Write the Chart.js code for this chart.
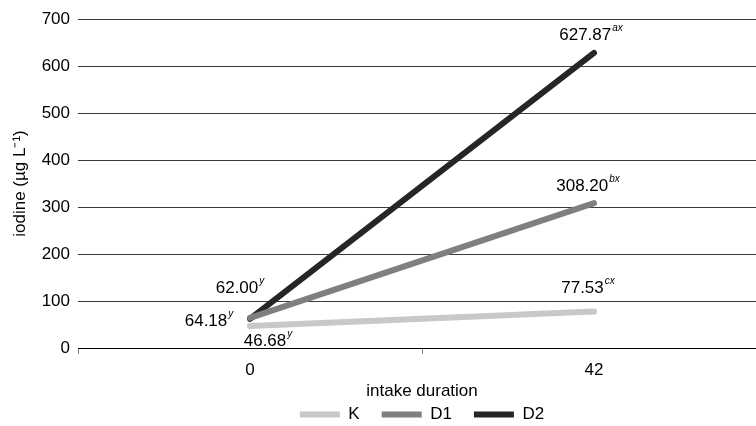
<!DOCTYPE html>
<html>
<head>
<meta charset="utf-8">
<script src="https://cdn.jsdelivr.net/npm/chart.js@4"></script>
<style>
  html, body { margin: 0; padding: 0; overflow: hidden; background: #fff; }
  #wrap { width: 768px; height: 433px; }
</style>
</head>
<body>
<div id="wrap"><canvas id="c"></canvas></div>
<script>
const days = ['0', '42'];
const kValues = [46.68, 77.53];
const d1Values = [64.18, 308.20];
const d2Values = [62.00, 627.87];
const kLetters = ['y', 'cx'];
const d1Letters = ['y', 'bx'];
const d2Letters = ['y', 'ax'];
const yTicks = [0, 100, 200, 300, 400, 500, 600, 700];

const FONT = "'Liberation Sans', Arial, sans-serif";

// where each value label sits relative to its point (centre offset)
const labelOffsets = [
  [[18, 15], [-6, -23]],
  [[-41, 3], [-6, -17]],
  [[-10, -31], [-3, -18]]
];
const letters = [kLetters, d1Letters, d2Letters];

const valueLabels = {
  id: 'valueLabels',
  afterDatasetsDraw(chart) {
    const ctx = chart.ctx;
    ctx.save();
    ctx.fillStyle = '#000';
    ctx.textBaseline = 'middle';
    chart.data.datasets.forEach((ds, i) => {
      chart.getDatasetMeta(i).data.forEach((pt, j) => {
        const main = ds.data[j].toFixed(2);
        const sup = letters[i][j];
        ctx.font = '17px ' + FONT;
        const wm = ctx.measureText(main).width;
        ctx.font = 'italic 10px ' + FONT;
        const ws = ctx.measureText(sup).width;
        const cx = pt.x + labelOffsets[i][j][0];
        const cy = pt.y + labelOffsets[i][j][1];
        const x0 = cx - (wm + ws + 1) / 2;
        ctx.textAlign = 'left';
        ctx.font = '17px ' + FONT;
        ctx.fillText(main, x0, cy);
        ctx.font = 'italic 10px ' + FONT;
        ctx.fillText(sup, x0 + wm + 1, cy - 7);
      });
    });
    ctx.restore();
  }
};

const line = (label, data, color) => ({
  label, data,
  borderColor: color,
  backgroundColor: color,
  borderWidth: 6,
  borderCapStyle: 'round',
  pointRadius: 0,
  fill: false,
  tension: 0
});

new Chart(document.getElementById('c'), {
  type: 'line',
  data: {
    labels: days,
    datasets: [
      line('K', kValues, '#c8c8c8'),
      line('D1', d1Values, '#7f7f7f'),
      line('D2', d2Values, '#262626')
    ]
  },
  plugins: [valueLabels],
  options: {
    responsive: true,
    maintainAspectRatio: false,
    animation: false,
    layout: { padding: { top: 19, left: 0, right: 2, bottom: 0 } },
    plugins: {
      tooltip: { enabled: false },
      legend: {
        position: 'bottom',
        fullSize: false,
        labels: {
          usePointStyle: true,
          pointStyle: 'line',
          pointStyleWidth: 40,
          boxWidth: 40,
          boxHeight: 17,
          padding: 22,
          color: '#000',
          font: { family: FONT, size: 17 }
        }
      }
    },
    scales: {
      x: {
        offset: true,
        afterFit(scale) { scale.height = 36; },
        grid: {
          display: true,
          offset: true,
          drawOnChartArea: false,
          drawTicks: true,
          tickLength: 6,
          color: '#808080'
        },
        border: { display: true, color: '#000', width: 1 },
        ticks: { color: '#000', padding: 6, font: { family: FONT, size: 17 } },
        title: {
          display: true,
          text: 'intake duration',
          color: '#000',
          padding: { top: 1, bottom: -18 },
          font: { family: FONT, size: 17 }
        }
      },
      y: {
        min: 0,
        max: 700,
        afterFit(scale) { scale.width = 78; },
        afterBuildTicks(scale) { scale.ticks = yTicks.map(v => ({ value: v })); },
        grid: { color: '#3a3a3a', drawTicks: false },
        border: { display: false },
        ticks: { color: '#000', padding: 8, font: { family: FONT, size: 17 } },
        title: {
          display: true,
          text: 'iodine (µg L⁻¹)',
          color: '#000',
          padding: { top: 10, bottom: 0 },
          font: { family: FONT, size: 17 }
        }
      }
    }
  }
});
</script>
</body>
</html>
